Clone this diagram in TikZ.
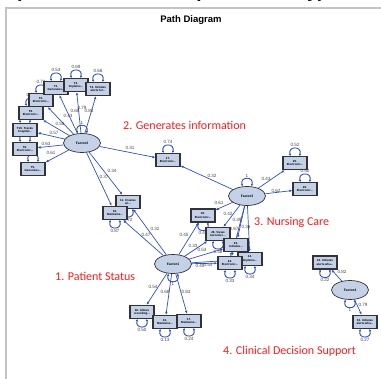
\documentclass[tikz,border=0pt]{standalone}
\usepackage{fontspec}
\setmainfont{Liberation Sans}
\newfontfamily\areafont{Carlito}
\usetikzlibrary{arrows.meta,shapes.geometric,backgrounds}

\definecolor{pathblue}{RGB}{50,80,190}
\definecolor{boxfill}{RGB}{196,209,230}
\definecolor{boxline}{RGB}{50,50,58}
\definecolor{areared}{RGB}{245,30,30}
\definecolor{framegray}{RGB}{195,195,195}
\definecolor{coefgray}{RGB}{70,70,70}

% error-variance loop above / below an indicator
\newcommand\selfup[2]{%
  \draw[selfarc] ([xshift=-4.5pt]#1.north) .. controls +(-3,-10) and +(3,-10) .. ([xshift=4.5pt]#1.north);
  \node[coef] (#1-v) at ([yshift=10.5pt]#1.north) {#2};}
\newcommand\selfdown[2]{%
  \draw[selfarc] ([xshift=-4.5pt]#1.south) .. controls +(-3,10) and +(3,10) .. ([xshift=4.5pt]#1.south);
  \node[coef] (#1-v) at ([yshift=-10.5pt]#1.south) {#2};}

\begin{document}
\begin{tikzpicture}[x=1pt,y=-1pt,
  ind/.style={rectangle, draw=boxline, fill=boxfill, line width=1.3pt,
    minimum width=24pt, minimum height=13pt, inner sep=0.3pt, align=center,
    font=\fontsize{2.9}{3.4}\selectfont\bfseries},
  fac/.style={ellipse, draw=boxline, fill=boxfill, line width=0.7pt,
    minimum width=37pt, minimum height=19pt, inner sep=0pt,
    font=\fontsize{3.4}{4}\selectfont\bfseries},
  link/.style={draw=pathblue, line width=0.7pt, -{Latex[length=3pt,width=2.6pt]}},
  selfarc/.style={draw=pathblue, line width=0.9pt,
    {Latex[length=2pt,width=2.4pt]}-{Latex[length=2pt,width=2.4pt]}},
  coef/.style={font=\fontsize{4.6}{5.4}\selectfont, text=coefgray, inner sep=0pt},
  area/.style={font=\areafont\fontsize{12}{14}\selectfont, text=areared,
    anchor=west, inner sep=0pt}]
\useasboundingbox (0,0) rectangle (381,379);

% heading of the page above the panel (only its lowest part shows)
\node[anchor=base west, inner sep=0pt, font=\bfseries\fontsize{19}{22}\selectfont]
  (heading) at (15,-2) {(Model Results: Output Summary)};

% panel frame and title
\draw[framegray, line width=1.3pt] (6,390) -- (6,8) -- (390,8);
\node[font=\bfseries\fontsize{9.5}{11}\selectfont] (title) at (191,20) {Path Diagram};

% ---------- latent factors ----------
\node[fac] (F2) at (82,143) {Factor2};
\node[fac] (F1) at (173,264) {Factor1};
\node[fac] (F3) at (247,196) {Factor3};
\node[fac] (F4) at (350,290) {Factor4};

% ---------- Factor2 indicators ----------
\node[ind] (T5) at (33,169) {T5.\\Generates...};
\selfup{T5}{0.62}
\node[ind] (T6) at (25,149) {T6.\\Electronic...};
\selfup{T6}{0.60}
\node[ind] (T10) at (25,130) {T10. Tracks\\hospital...};
\selfup{T10}{0.67}
\node[ind] (T8) at (31,113) {T8.\\Electronic...};
\selfup{T8}{0.68}
\node[ind] (T2) at (41,100) {T2.\\Electronic...};
\selfup{T2}{0.72}
\node[ind] (T1) at (56,88) {T1.\\Generates...};
\selfup{T1}{0.53}
\node[ind] (T3) at (76,85) {T3.\\Impleme...};
\selfup{T3}{0.69}
\node[ind] (T4) at (98,89) {T4. Initiates\\alerts for...};
\selfup{T4}{0.66}
\node[ind] (B17) at (168,160) {17.\\Electronic...};
\selfup{B17}{0.74}

% ---------- Factor1 indicators ----------
\node[ind] (B11) at (128,202) {11. Creates\\an...};
\selfdown{B11}{0.72}
\node[ind] (B10) at (115,213) {10.\\Maintains...};
\selfdown{B10}{0.87}
\node[ind] (B18) at (142,312) {18. Allows\\recording...};
\selfdown{B18}{0.50}
\node[ind] (B16) at (165,322) {16.\\Maintains...};
\selfdown{B16}{0.13}
\node[ind] (B19) at (189,321) {17.\\Maintains...};
\selfdown{B19}{0.24}

% ---------- Factor3 indicators ----------
\node[ind] (B25) at (295,163) {25.\\Electronic...};
\selfup{B25}{0.52}
\node[ind] (B26) at (305,189) {26.\\Electronic...};
\selfup{B26}{0.50}
\node[ind] (B20) at (203,215.5) {20.\\Electronic...};
\selfdown{B20}{0.46}
\node[ind] (B28) at (218,234) {28. Views\\barcode i...};
\selfdown{B28}{0.38}
\node[ind] (B22) at (236,245) {22.\\Initiates...};
\draw[selfarc] ([xshift=-4.5pt]B22.south) .. controls +(-3,10) and +(3,10) .. ([xshift=4.5pt]B22.south);
\node[ind] (B14) at (250,259) {14.\\Impleme...};
\selfdown{B14}{0.34}
\node[ind] (B24) at (230,263) {24.\\Electronic...};
\selfdown{B24}{0.33}

% ---------- Factor4 indicators ----------
\node[ind] (B32) at (325,262.5) {32. Initiates\\alerts wha...};
\selfdown{B32}{0.22}
\node[ind] (B33) at (365,322) {33. Initiates\\alerts wha...};
\selfdown{B33}{0.27}

% factor variances
\draw[selfarc] ([xshift=-4.5pt]F2.north) .. controls +(-3,-10) and +(3,-10) .. ([xshift=4.5pt]F2.north);
\node[coef] (F2-v) at ([yshift=10.5pt]F2.north) {1};
\draw[selfarc] ([xshift=-4.5pt]F3.north) .. controls +(-3,-10) and +(3,-10) .. ([xshift=4.5pt]F3.north);
\node[coef] (F3-v) at ([yshift=10.5pt]F3.north) {1};
\draw[selfarc] ([xshift=-4.5pt]F1.south) .. controls +(-3,10) and +(3,10) .. ([xshift=4.5pt]F1.south);
\node[coef] (F1-v) at ([yshift=-10.5pt]F1.south) {1};
\draw[selfarc] ([xshift=-4.5pt]F4.south) .. controls +(-3,10) and +(3,10) .. ([xshift=4.5pt]F4.south);
\node[coef] (F4-v) at ([yshift=-10.5pt]F4.south) {1};

% ---------- loadings ----------
\begin{pgfonlayer}{background}
  \foreach \b in {T1,T2,T3,T4,T5,T6,T8,T10,B17,B11,B10}
    \draw[link] (F2) -- (\b);
  \foreach \b in {B11,B10,B18,B16,B19,B20,B28,B22,B24,B14}
    \draw[link] (F1) -- (\b);
  \foreach \b in {B17,B25,B26,B20,B28,B22,B24,B14}
    \draw[link] (F3) -- (\b);
  \foreach \b in {B32,B33}
    \draw[link] (F4) -- (\b);
\end{pgfonlayer}

% loading estimates
\node[coef] at (75,111) {0.68};
\node[coef] at (82,107.5) {0.79};
\node[coef] at (89,110.5) {0.83};
\node[coef] at (68,116) {0.43};
\node[coef] at (60,124) {0.58};
\node[coef] at (54,133) {0.57};
\node[coef] at (46,144) {0.63};
\node[coef] at (51,153) {0.61};
\node[coef] at (130,148) {0.31};
\node[coef] at (212,176) {0.32};
\node[coef] at (112,171) {0.34};
\node[coef] at (104,177) {0.37};
\node[coef] at (155,229) {0.32};
\node[coef] at (146,235) {0.47};
\node[coef] at (153,287) {0.54};
\node[coef] at (165,292) {0.68};
\node[coef] at (186,292) {0.83};
\node[coef] at (184,235) {0.45};
\node[coef] at (193,246) {0.33};
\node[coef] at (202,250) {0.53};
\node[coef] at (200,266) {0.40};
\node[coef] at (208,264.5) {0.54};
\node[coef] at (219,203) {0.61};
\node[coef] at (228,214) {0.42};
\node[coef] at (237,220) {0.39};
\node[coef] at (234,229) {0.67};
\node[coef] at (246,227) {0.36};
\node[coef] at (266,179) {0.43};
\node[coef] at (276,191) {0.62};
\node[coef] at (342,272) {0.82};
\node[coef] at (363,305) {0.79};

% ---------- construct labels ----------
\node[area] (lab2) at (123,125) {2. Generates information};
\node[area] (lab3) at (254,222) {3. Nursing Care};
\node[area] (lab1) at (55,276) {1. Patient Status};
\node[area] (lab4) at (223,351) {4. Clinical Decision Support};
\end{tikzpicture}
\end{document}
